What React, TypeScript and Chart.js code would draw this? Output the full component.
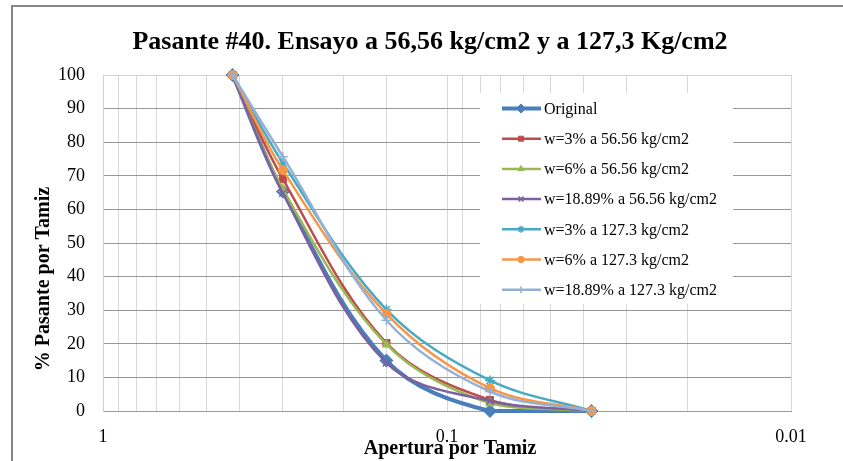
import React, { useEffect, useRef } from 'react';
import { Chart, registerables } from 'chart.js';
import { drawPoint } from 'chart.js/helpers';

Chart.register(...registerables);

const chartTitle = 'Pasante #40. Ensayo a 56,56 kg/cm2 y a 127,3 Kg/cm2';
const xTitle = 'Apertura por Tamiz';
const yTitle = '% Pasante por Tamiz';

const apertures = [0.42, 0.3, 0.15, 0.075, 0.038];
const original = [100, 65.3, 15, 0, 0];
const w3at56 = [100, 69, 20.2, 3.3, 0];
const w6at56 = [100, 66, 19.8, 2.3, 0];
const w1889at56 = [100, 64.8, 14.3, 3, 0];
const w3at127 = [100, 73.8, 30.2, 9.1, 0];
const w6at127 = [100, 71.7, 28.9, 6.8, 0];
const w1889at127 = [100, 75.7, 27, 5.8, 0];

const seriesLabels = [
  'Original',
  'w=3% a 56.56 kg/cm2',
  'w=6% a 56.56 kg/cm2',
  'w=18.89% a 56.56 kg/cm2',
  'w=3% a 127.3 kg/cm2',
  'w=6% a 127.3 kg/cm2',
  'w=18.89% a 127.3 kg/cm2',
];
const seriesValues = [original, w3at56, w6at56, w1889at56, w3at127, w6at127, w1889at127];
const seriesColors = ['#4A7EBB', '#BE4B48', '#98B954', '#7D60A0', '#46AAC5', '#F79646', '#93B1D7'];
const seriesMarkers = ['rectRot', 'rect', 'triangle', 'crossRot', 'star', 'circle', 'cross'];
const seriesMarkerSizes = [6.5, 5, 5, 5, 5, 4.5, 5];
const seriesLineWidths = [4, 2.5, 2.5, 2.5, 2.5, 2.5, 2.5];
const xLabelValues = [1, 0.1, 0.01];

const SERIF = '"Liberation Serif", "Times New Roman", serif';

const decorPlugin = {
  id: 'decor',
  afterDraw(chart: any) {
    const ctx = chart.ctx;
    ctx.save();
    // outer frame
    ctx.strokeStyle = '#868686';
    ctx.lineWidth = 2;
    ctx.strokeRect(12, 6, 900, 600);
    // title
    ctx.fillStyle = '#000';
    ctx.textAlign = 'center';
    ctx.textBaseline = 'middle';
    ctx.font = 'bold 26px ' + SERIF;
    ctx.fillText(chartTitle, 430, 42);
    // x title
    ctx.font = 'bold 20px ' + SERIF;
    ctx.fillText(xTitle, 450, 449);
    // y title
    ctx.save();
    ctx.translate(44, 279);
    ctx.rotate(-Math.PI / 2);
    ctx.fillText(yTitle, 0, 0);
    ctx.restore();

    // legend
    ctx.fillStyle = '#fff';
    ctx.fillRect(480, 93, 253, 211);
    ctx.font = '16px ' + SERIF;
    ctx.textAlign = 'left';
    chart.data.datasets.forEach((ds: any, i: number) => {
      const y = 108.5 + i * 30.2;
      ctx.strokeStyle = ds.borderColor;
      ctx.lineWidth = ds.borderWidth;
      ctx.beginPath();
      ctx.moveTo(502, y);
      ctx.lineTo(541, y);
      ctx.stroke();
      ctx.fillStyle = ds.pointBackgroundColor;
      ctx.strokeStyle = ds.pointBorderColor;
      ctx.lineWidth = ds.pointBorderWidth;
      drawPoint(ctx, { pointStyle: ds.pointStyle, radius: ds.pointRadius * 0.7, rotation: 0, borderWidth: ds.pointBorderWidth }, 521, y);
      ctx.fillStyle = '#000';
      ctx.fillText(ds.label, 544, y + 1);
    });
    ctx.restore();
  },
};

export default function App() {
  const canvasRef = useRef<HTMLCanvasElement | null>(null);

  useEffect(() => {
    const canvas = canvasRef.current;
    if (!canvas) return;
    const datasets = seriesLabels.map((label, i) => ({
      label,
      data: apertures.map((x, j) => ({ x, y: seriesValues[i][j] })),
      borderColor: seriesColors[i],
      backgroundColor: seriesColors[i],
      borderWidth: seriesLineWidths[i],
      pointStyle: seriesMarkers[i],
      pointRadius: seriesMarkerSizes[i],
      pointBackgroundColor: seriesColors[i],
      pointBorderColor: seriesColors[i],
      pointBorderWidth: ['crossRot', 'star', 'cross'].includes(seriesMarkers[i]) ? 1.5 : 1,
      showLine: true,
      tension: 0.35,
      clip: false,
      order: -i,
    }));
    const chart = new Chart(canvas, {
      type: 'scatter',
      data: { datasets },
      options: {
        responsive: false,
        animation: false,
        devicePixelRatio: 1,
        layout: { padding: { left: 13, top: 75, right: 52, bottom: 0 } },
        plugins: { legend: { display: false }, tooltip: { enabled: false }, title: { display: false } },
        scales: {
          x: {
            type: 'logarithmic',
            reverse: true,
            min: 0.01,
            max: 1,
            afterFit: (s: any) => { s.height = 50; },
            grid: { color: '#d6d6d6', lineWidth: 1, drawTicks: false },
            border: { display: true, color: '#9a9a9a', width: 1 },
            ticks: {
              autoSkip: false,
              maxRotation: 0,
              padding: 15,
              color: '#000',
              font: { family: SERIF, size: 18 },
              callback: (v: any) => {
                const n = Number(v);
                const hit = xLabelValues.find((t) => Math.abs(t - n) / t < 1e-6);
                return hit !== undefined ? String(hit) : '';
              },
            },
          },
          y: {
            type: 'linear',
            min: 0,
            max: 100,
            afterFit: (s: any) => { s.width = 90; },
            grid: {
              color: (c: any) => (c.tick && c.tick.value === 100 ? '#d0d0d0' : '#969696'),
              lineWidth: 1,
              drawTicks: false,
            },
            border: { display: true, color: '#d0d0d0', width: 1 },
            ticks: {
              stepSize: 10,
              padding: 18,
              color: '#000',
              font: { family: SERIF, size: 18 },
            },
          },
        },
      },
      plugins: [decorPlugin],
    } as any);
    return () => chart.destroy();
  }, []);

  return (
    <div style={{ position: 'absolute', left: 0, top: 0, width: 843, height: 461, background: '#fff' }}>
      <canvas ref={canvasRef} width={843} height={461} style={{ display: 'block', width: 843, height: 461 }} />
    </div>
  );
}
